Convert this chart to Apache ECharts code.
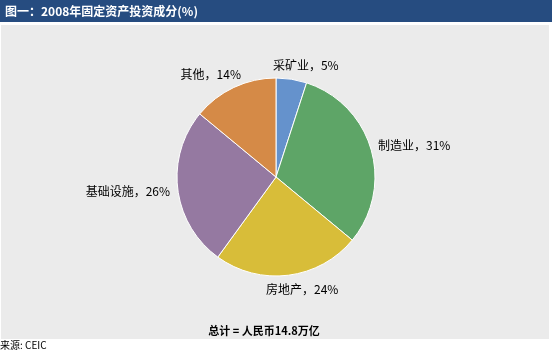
<!DOCTYPE html>
<html>
<head>
<meta charset="utf-8">
<script src="https://cdn.jsdelivr.net/npm/echarts@6/dist/echarts.min.js"></script>
<style>
  html, body { margin: 0; padding: 0; background: #fff; }
  #chart { width: 554px; height: 352px; }
</style>
</head>
<body>
<div id="chart"></div>
<script>
// 数据
const categories = ["采矿业", "制造业", "房地产", "基础设施", "其他"];
const shares = [5, 31, 24, 26, 14];
const colors = ["#6592cc", "#5ea567", "#d8bd39", "#9579a1", "#d58a47"];

const cx = 276, cy = 177, radius = 99;
const total = shares.reduce((a, b) => a + b, 0);

// 每个扇形的中间角度（从12点钟方向顺时针）
const midAngles = [];
let acc = 0;
shares.forEach((v) => {
  midAngles.push(((acc + v / 2) / total) * Math.PI * 2);
  acc += v;
});

const chart = echarts.init(document.getElementById("chart"));
const font = '"Noto Sans CJK SC", "DejaVu Sans", sans-serif';

const option = {
  animation: false,
  backgroundColor: "#ffffff",
  graphic: [
    { type: "rect", shape: { x: 0, y: 0, width: 552, height: 22 }, style: { fill: "#264c80" }, z: -10 },
    { type: "rect", shape: { x: 1, y: 25, width: 548, height: 314 }, style: { fill: "#ebebeb" }, z: -10 }
  ],
  title: [
    {
      text: "图一：2008年固定资产投资成分(%)",
      left: 5, top: 4, padding: 0,
      textStyle: { color: "#fff", fontSize: 12, fontWeight: "bold", fontFamily: font, lineHeight: 14 }
    },
    {
      text: "总计 = 人民币14.8万亿",
      left: 264, top: 324, padding: 0, textAlign: "center",
      textStyle: { color: "#000", fontSize: 11, fontWeight: "bold", fontFamily: font, lineHeight: 13 }
    },
    {
      text: "来源: CEIC",
      left: 0, top: 340, padding: 0,
      textStyle: { color: "#000", fontSize: 10, fontWeight: "normal", fontFamily: font, lineHeight: 11 }
    }
  ],
  series: [
    {
      type: "pie",
      center: [cx, cy],
      radius: radius,
      startAngle: 90,
      clockwise: true,
      silent: true,
      itemStyle: { borderColor: "#fff", borderWidth: 1 },
      label: {
        show: true,
        position: "outside",
        formatter: (p) => p.name + "，" + p.value + "%",
        color: "#000",
        fontSize: 12,
        fontFamily: font
      },
      labelLine: { show: false },
      labelLayout: function (params) {
        const a = midAngles[params.dataIndex];
        const ux = Math.sin(a), uy = -Math.cos(a);
        const w = params.labelRect.width, h = params.labelRect.height;
        const gap = 8;
        const x = cx + ux * (radius + gap) + Math.sign(ux) * Math.sqrt(Math.abs(ux)) * w / 2;
        const y = cy + uy * (radius + gap) + uy * h / 2;
        return { x: x, y: y, align: "center", verticalAlign: "middle" };
      },
      data: categories.map((c, i) => ({
        name: c,
        value: shares[i],
        itemStyle: { color: colors[i] }
      }))
    }
  ]
};

chart.setOption(option);
</script>
</body>
</html>
